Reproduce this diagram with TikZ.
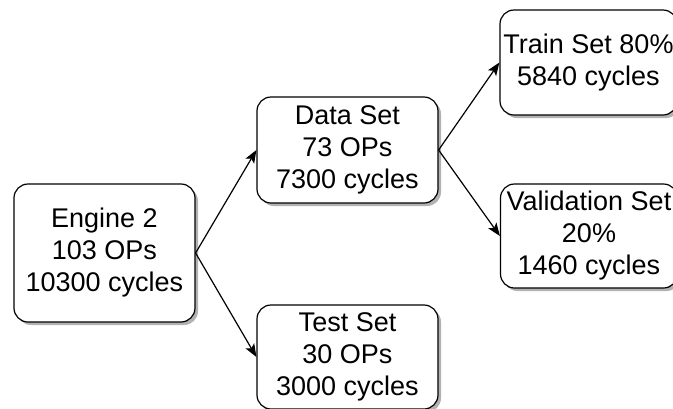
\documentclass[tikz,border=0pt]{standalone}
\usepackage{fontspec}
\setmainfont{Liberation Sans}
\usetikzlibrary{arrows.meta,shadows}
\begin{document}
\begin{tikzpicture}[x=1pt,y=-1pt,
  box/.style={draw=black, line width=1.2pt, fill=white, rounded corners=14pt,
    minimum width=181pt, inner sep=0pt, align=center,
    font=\fontsize{27}{32}\selectfont,
    drop shadow={shadow xshift=3pt, shadow yshift=-3pt, fill=black, opacity=0.3}},
  link/.style={draw=black, line width=1.2pt, -{Stealth[length=13pt,width=10pt,inset=3pt]}}]
\useasboundingbox (0,0) rectangle (673,408);
\begin{scope}
\clip (0,0) rectangle (673,408);
\node[box, minimum height=138pt] (engine) at (104.5,253) {Engine 2\\103 OPs\\10300 cycles};
\node[box, minimum height=106pt] (data) at (347.5,150) {Data Set\\73 OPs\\7300 cycles};
\node[box, minimum height=104pt] (test) at (347.5,357) {Test Set\\30 OPs\\3000 cycles};
\node[box, minimum height=105pt, minimum width=177pt] (train) at (588.5,62.5) {Train Set 80\%\\5840 cycles};
\node[box, minimum height=104pt, minimum width=177pt] (val) at (589,236) {Validation Set\\20\%\\1460 cycles};
\draw[link] (engine.east) -- (data.west);
\draw[link] (engine.east) -- (test.west);
\draw[link] (data.east) -- (train.west);
\draw[link] (data.east) -- (val.west);
\end{scope}
\end{tikzpicture}
\end{document}
